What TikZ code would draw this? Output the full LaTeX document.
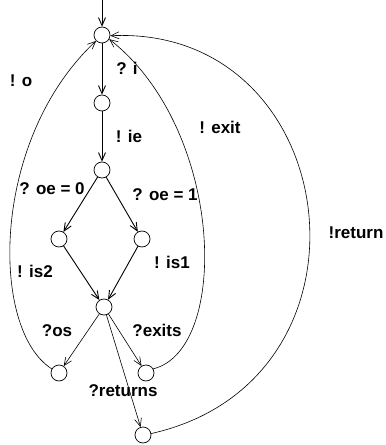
\documentclass[tikz,border=0pt]{standalone}
\usepackage{fontspec}
\setmainfont{Liberation Sans}
\usetikzlibrary{arrows.meta}
\begin{document}
\begin{tikzpicture}[x=1bp,y=-1bp,
  state/.style={circle,draw,minimum size=16bp,inner sep=0pt,line width=0.7bp},
  lbl/.style={font=\fontsize{17bp}{20bp}\selectfont\bfseries,inner sep=0pt},
  edge/.style={line width=0.9bp,-{Straight Barb[length=8bp,width=7bp]}},
  thin edge/.style={line width=0.6bp,-{Straight Barb[length=8bp,width=7bp]}}]
\useasboundingbox (0,0) rectangle (385,445);
\node[state] (n0) at (102,35) {};
\node[state] (n1) at (102,103) {};
\node[state] (n2) at (102,170) {};
\node[state] (n3) at (59,239) {};
\node[state] (n4) at (142,239) {};
\node[state] (n5) at (104,307) {};
\node[state] (n6) at (59,373) {};
\node[state] (n7) at (146,373) {};
\node[state] (n8) at (143,435) {};
\coordinate (init) at (102,0);
\draw[edge] (init) -- (n0);
\draw[edge] (n0) -- (n1);
\draw[edge] (n1) -- (n2);
\draw[edge] (n2) -- (n3);
\draw[edge] (n2) -- (n4);
\draw[edge] (n3) -- (n5);
\draw[edge] (n4) -- (n5);
\draw[thin edge] (n5) -- (n6);
\draw[thin edge] (n5) -- (n7);
\draw[thin edge] (n5) -- (n8);
\draw[thin edge] (n6.150) .. controls (-10,330) and (-10,140) .. (n0.225);
\draw[thin edge] (n7.30) .. controls (230,350) and (225,130) .. (n0.-30);
\draw[thin edge] (n8.10) .. controls (390,380) and (345,25) .. (n0.-5);
\node[lbl] (l1) at (127,68) {? i};
\node[lbl] (l2) at (129,136) {! ie};
\node[lbl] (l3) at (52,189) {? oe = 0};
\node[lbl] (l4) at (165,195) {? oe = 1};
\node[lbl] (l5) at (35,271) {! is2};
\node[lbl] (l6) at (172,262) {! is1};
\node[lbl] (l7) at (57,331) {?os};
\node[lbl] (l8) at (157,330) {?exits};
\node[lbl] (l9) at (123,391) {?returns};
\node[lbl] (l10) at (21,81) {! o};
\node[lbl] (l11) at (220,127) {! exit};
\node[lbl] (l12) at (356,233) {!return};
\end{tikzpicture}
\end{document}
